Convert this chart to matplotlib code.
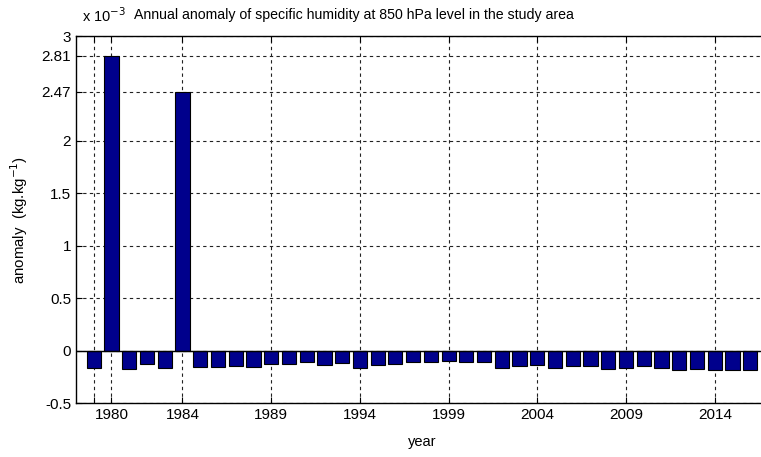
import matplotlib
matplotlib.use("Agg")
import matplotlib.pyplot as plt

plt.rcParams['font.family'] = ['Liberation Sans', 'DejaVu Sans']

years = list(range(1979, 2017))
anomaly = [-0.16, 2.81, -0.175, -0.127, -0.16, 2.47, -0.15, -0.15, -0.14, -0.15,
           -0.13, -0.13, -0.11, -0.133, -0.12, -0.16, -0.133, -0.127, -0.11, -0.11,
           -0.095, -0.11, -0.11, -0.16, -0.14, -0.133, -0.16, -0.146, -0.146, -0.17,
           -0.16, -0.146, -0.16, -0.185, -0.17, -0.185, -0.185, -0.185]
xtick_pos = [1979, 1980, 1984, 1989, 1994, 1999, 2004, 2009, 2014]
xtick_lab = ['', '1980', '1984', '1989', '1994', '1999', '2004', '2009', '2014']
ytick_pos = [-0.5, 0, 0.5, 1, 1.5, 2, 2.47, 2.81, 3]
ytick_lab = ['-0.5', '0', '0.5', '1', '1.5', '2', '2.47', '2.81', '3']

fig = plt.figure(figsize=(7.61, 4.57), dpi=100)
ax = fig.add_axes([76/761, 0.1175, 692/761, 0.8037])
ax.bar(years, anomaly, width=0.8, color='#00008c', edgecolor='black', linewidth=0.8, zorder=3)
ax.axhline(0, color='black', lw=1.0, zorder=4)
ax.set_xlim(1978, 2017)
ax.set_ylim(-0.5, 3)
ax.set_xticks(xtick_pos)
ax.set_xticklabels(xtick_lab)
ax.set_yticks(ytick_pos)
ax.set_yticklabels(ytick_lab)
ax.grid(True, color='#222222', linestyle=(0, (3, 3)), linewidth=0.8, zorder=1)
ax.tick_params(direction='in', top=True, right=False, length=4.5, labelsize=11, colors='black')
ax.spines['right'].set_visible(False)
for s in ax.spines.values():
    s.set_linewidth(1.0)
ax.set_xlabel('year', fontsize=10.5, labelpad=9)
ax.set_ylabel('anomaly  (kg.kg$^{-1}$)', fontsize=10.8, labelpad=8)
fig.text(82/761, 1 - 22/457, r'x 10$^{-3}$', fontsize=10.5, ha='left', va='baseline')
fig.text(134/761, 1 - 19/457, 'Annual anomaly of specific humidity at 850 hPa level in the study area',
         fontsize=10.2, ha='left', va='baseline')
fig.savefig('out.png', dpi=100)
